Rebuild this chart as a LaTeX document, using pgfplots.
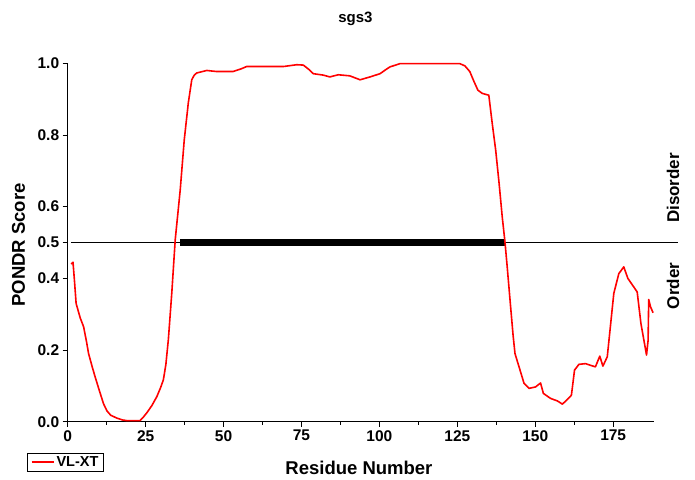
\documentclass[border=0pt]{standalone}
\usepackage{fontspec}
\setmainfont{Liberation Sans}
\usepackage{pgfplots}
\pgfplotsset{compat=1.18}
\pgfplotstableread{
x y
1.1 0.44
1.7 0.445
2.2 0.39
2.7 0.33
4.0 0.29
5.1 0.265
6.0 0.225
6.7 0.19
7.8 0.155
8.8 0.125
10.4 0.08
11.5 0.05
12.6 0.03
13.8 0.018
15.8 0.01
17.5 0.005
19.0 0.003
23.2 0.003
24.2 0.012
25.4 0.025
27.0 0.045
28.6 0.07
29.8 0.095
30.7 0.117
31.5 0.16
32.3 0.23
33.4 0.36
34.5 0.508
36.1 0.647
37.4 0.787
38.7 0.89
39.8 0.954
40.6 0.967
41.4 0.973
44.6 0.98
47.8 0.977
53.0 0.977
55.5 0.984
57.4 0.991
63.8 0.991
69.2 0.991
73.5 0.996
75.6 0.995
77.5 0.982
78.8 0.971
82.0 0.967
84.1 0.962
86.8 0.968
90.5 0.965
93.8 0.954
97.0 0.962
100.2 0.971
102.0 0.982
103.4 0.99
106.6 0.999
125.8 0.999
127.4 0.993
129.0 0.977
130.3 0.95
131.6 0.925
133.0 0.916
135.1 0.911
136.2 0.832
137.3 0.758
138.4 0.665
139.4 0.572
140.3 0.5
141.0 0.432
142.1 0.32
142.9 0.24
143.5 0.19
144.8 0.153
146.4 0.107
148.0 0.093
150.1 0.097
151.7 0.108
152.6 0.079
154.9 0.065
157.1 0.058
158.7 0.049
160.3 0.062
161.6 0.074
162.6 0.144
164.0 0.16
166.1 0.162
169.3 0.153
170.7 0.183
171.7 0.155
173.1 0.181
175.2 0.358
176.8 0.413
178.4 0.432
179.7 0.4
181.6 0.376
182.7 0.362
183.9 0.274
185.7 0.186
186.2 0.227
186.4 0.341
187.0 0.32
187.8 0.304
}\vlxt
\begin{document}
\begin{tikzpicture}
\begin{axis}[
  scale only axis, width=586pt, height=358.4pt,
  xmin=0, xmax=188, ymin=0, ymax=1,
  axis x line=bottom, axis y line=left,
  axis line style={-, black, line width=0.8pt},
  tick style={black, line width=0.8pt},
  tick align=outside,
  major tick length=5pt, minor tick length=3pt,
  xtick={0,25,...,175}, minor x tick num=1,
  ytick={0,0.2,0.4,0.5,0.6,0.8,1.0},
  yticklabel style={/pgf/number format/.cd, fixed, fixed zerofill, precision=1},
  /pgf/number format/assume math mode=true,
  tick label style={font=\bfseries\fontsize{15.5}{18}\selectfont},
  xlabel={Residue Number}, ylabel={PONDR Score},
  label style={font=\bfseries\fontsize{18.5}{22}\selectfont},
  xlabel style={at={(axis description cs:0.497,-0.1487)}, anchor=base},
  ylabel style={at={(axis description cs:-0.084,0.493)}, anchor=center},
  title={sgs3},
  title style={font=\bfseries\fontsize{15}{18}\selectfont, at={(axis description cs:0.491,1.0957)}, anchor=base},
  clip=false,
  legend style={at={(axis description cs:-0.0038,-0.1138)}, anchor=center, draw=black, line width=0.8pt,
    font=\bfseries\fontsize{14.5}{17}\selectfont, inner xsep=3pt, inner ysep=1pt},
  legend image code/.code={\draw[#1, line width=2pt] (0pt,0pt) -- (22pt,0pt);},
]
\addplot[black, line width=0.8pt, forget plot] coordinates {(1,0.5) (195.8,0.5)};
\addplot[black, line width=7pt, forget plot] coordinates {(36,0.5) (140.3,0.5)};
\addplot[red, line width=1.6pt, line join=round] table[x=x, y=y] {\vlxt};
\addlegendentry{VL-XT}
\node[rotate=90, font=\bfseries\fontsize{17}{20}\selectfont] at (axis cs:194.2,0.652) {Disorder};
\node[rotate=90, font=\bfseries\fontsize{17}{20}\selectfont] at (axis cs:194.2,0.379) {Order};
\end{axis}
\pgfresetboundingbox
\path[use as bounding box] (-67.7pt,-57.3pt) rectangle (627.3pt,421.7pt);
\end{tikzpicture}
\end{document}
